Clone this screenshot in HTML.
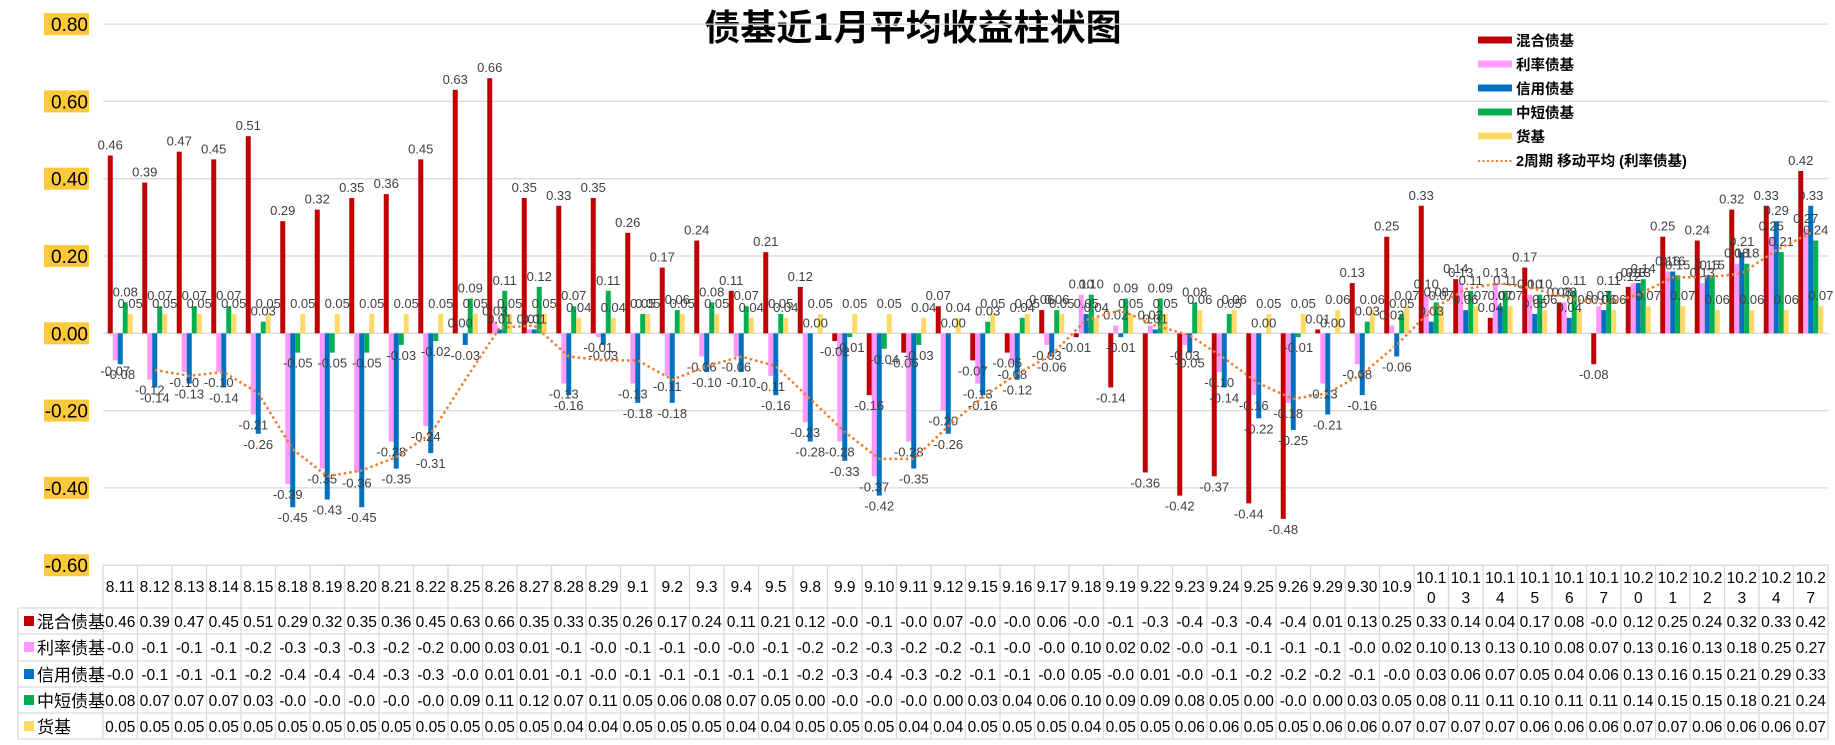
<!DOCTYPE html>
<html><head><meta charset="utf-8"><style>
html,body{margin:0;padding:0;background:#fff;}
svg{display:block;font-family:"Liberation Sans","Noto Sans CJK SC",sans-serif;}
</style></head><body>
<svg id="chart" width="1835" height="745" viewBox="0 0 1835 745" xmlns="http://www.w3.org/2000/svg">
<text x="913" y="40" text-anchor="middle" font-size="36" font-weight="bold" fill="#000" font-family="'Noto Sans CJK SC',sans-serif">债基近1月平均收益柱状图</text>
<g id="grid"></g><g id="bars"></g><g id="labels"></g><g id="ma"></g><g id="table"></g>
<g id="legend"></g>
</svg>
<script>
const categories=["8.11","8.12","8.13","8.14","8.15","8.18","8.19","8.20","8.21","8.22","8.25","8.26","8.27","8.28","8.29","9.1","9.2","9.3","9.4","9.5","9.8","9.9","9.10","9.11","9.12","9.15","9.16","9.17","9.18","9.19","9.22","9.23","9.24","9.25","9.26","9.29","9.30","10.9","10.10","10.13","10.14","10.15","10.16","10.17","10.20","10.21","10.22","10.23","10.24","10.27"];
const mixed=[0.46,0.39,0.47,0.45,0.51,0.29,0.32,0.35,0.36,0.45,0.63,0.66,0.35,0.33,0.35,0.26,0.17,0.24,0.11,0.21,0.12,-0.02,-0.16,-0.05,0.07,-0.07,-0.05,0.06,-0.01,-0.14,-0.36,-0.42,-0.37,-0.44,-0.48,0.01,0.13,0.25,0.33,0.14,0.04,0.17,0.08,-0.08,0.12,0.25,0.24,0.32,0.33,0.42];
const rate=[-0.07,-0.12,-0.10,-0.10,-0.21,-0.39,-0.35,-0.36,-0.28,-0.24,0.00,0.03,0.01,-0.13,-0.01,-0.13,-0.11,-0.06,-0.06,-0.11,-0.23,-0.28,-0.37,-0.28,-0.20,-0.13,-0.08,-0.03,0.10,0.02,0.02,-0.03,-0.10,-0.16,-0.18,-0.13,-0.08,0.02,0.10,0.13,0.13,0.10,0.08,0.07,0.13,0.16,0.13,0.18,0.25,0.27];
const credit=[-0.08,-0.14,-0.13,-0.14,-0.26,-0.45,-0.43,-0.45,-0.35,-0.31,-0.03,0.01,0.01,-0.16,-0.03,-0.18,-0.18,-0.10,-0.10,-0.16,-0.28,-0.33,-0.42,-0.35,-0.26,-0.16,-0.12,-0.06,0.05,-0.01,0.01,-0.05,-0.14,-0.22,-0.25,-0.21,-0.16,-0.06,0.03,0.06,0.07,0.05,0.04,0.06,0.13,0.16,0.15,0.21,0.29,0.33];
const shortBond=[0.08,0.07,0.07,0.07,0.03,-0.05,-0.05,-0.05,-0.03,-0.02,0.09,0.11,0.12,0.07,0.11,0.05,0.06,0.08,0.07,0.05,0.00,-0.01,-0.04,-0.03,0.00,0.03,0.04,0.06,0.10,0.09,0.09,0.08,0.05,0.00,-0.01,0.00,0.03,0.05,0.08,0.11,0.11,0.10,0.11,0.11,0.14,0.15,0.15,0.18,0.21,0.24];
const money=[0.05,0.05,0.05,0.05,0.05,0.05,0.05,0.05,0.05,0.05,0.05,0.05,0.05,0.04,0.04,0.05,0.05,0.05,0.04,0.04,0.05,0.05,0.05,0.04,0.04,0.05,0.05,0.05,0.04,0.05,0.05,0.06,0.06,0.05,0.05,0.06,0.06,0.07,0.07,0.07,0.07,0.06,0.06,0.06,0.07,0.07,0.06,0.06,0.06,0.07];
const yTicks=[0.8,0.6,0.4,0.2,0,-0.2,-0.4,-0.6];
const seriesNames=["混合债基","利率债基","信用债基","中短债基","货基"];

const NS="http://www.w3.org/2000/svg";
const series=[mixed,rate,credit,shortBond,money];
const colors=["#C00000","#FF99FF","#0070C0","#00B050","#FFD966"];
const keys=["mixed","rate","credit","short","money"];
const x0=103,catW=34.5,y0=333.3,pxPer=386.5;
const Y=v=>y0-v*pxPer;
const X=i=>x0+i*catW;
const bw=5;
function el(tag,attrs,parent,text){const e=document.createElementNS(NS,tag);for(const k in attrs)e.setAttribute(k,attrs[k]);if(text!==undefined)e.textContent=text;parent.appendChild(e);return e;}
const grid=document.getElementById('grid');
yTicks.forEach(t=>{
  const y=Y(t);
  if(t!==0){const l=el('line',{x1:x0,x2:1828,y1:y,y2:y,stroke:'#D9D9D9','stroke-width':1.3},grid);
  
  }
  const r=el('rect',{x:44,y:y-11,width:45,height:22,fill:'#FFC93C'},grid);
  
  
  const tx=el('text',{x:88,y:y+7,'text-anchor':'end','font-size':19,fill:'#000'},grid,t.toFixed(2));
  
  
});
const zl=el('line',{x1:x0,x2:1828,y1:y0,y2:y0,stroke:'#D9D9D9','stroke-width':1.3},grid);


const bars=document.getElementById('bars'),labels=document.getElementById('labels');
categories.forEach((c,i)=>{
  const gx=X(i)+(catW-5*bw)/2;
  series.forEach((s,k)=>{
    const v=s[i];const x=gx+k*bw;const y=Math.min(Y(v),y0);const h=Math.abs(Y(v)-y0);
    const r=el('rect',{x:x,y:y,width:bw,height:Math.max(h,0),fill:colors[k]},bars);
    
    
    const ly=v>=0?Y(v)-6:Y(v)+15;
    const t=el('text',{x:x+bw/2,y:ly,'text-anchor':'middle','font-size':13,fill:'#404040'},labels,v.toFixed(2));
    
    
  });
});
// moving average
const ma=document.getElementById('ma');let pts=[];
for(let i=1;i<rate.length;i++){pts.push((X(i)+catW/2).toFixed(1)+','+Y((rate[i]+rate[i-1])/2).toFixed(1));}
const pl=el('polyline',{points:pts.join(' '),fill:'none',stroke:'#ED7D31','stroke-width':2.5,'stroke-dasharray':'2.5,3'},ma);


// table
const tb=document.getElementById('table');
const rowsY=[565,608,634,661,687,713,739];
const ln=(a)=>{const l=el('line',Object.assign({stroke:'#D9D9D9','stroke-width':1.3},a),tb);};
ln({x1:x0,x2:1828,y1:565,y2:565});
for(let r=1;r<rowsY.length;r++)ln({x1:18,x2:1828,y1:rowsY[r],y2:rowsY[r]});
ln({x1:18,x2:18,y1:608,y2:739});
for(let i=0;i<=categories.length;i++)ln({x1:X(i),x2:X(i),y1:565,y2:739});
function fmt(v){if(v<0){return '-'+(Math.floor(Math.abs(v)*10+1e-9)/10).toFixed(1);}return v.toFixed(2);}
categories.forEach((c,i)=>{
  const cx=X(i)+catW/2;
  if(c.length>4){
    const t=el('text',{x:cx,y:592,'text-anchor':'middle','font-size':15.5,fill:'#000'},tb);
    
    
    el('tspan',{x:cx,y:583},t,c.slice(0,4));el('tspan',{x:cx,y:603},t,c.slice(4));
  }else{
    const t=el('text',{x:cx,y:592,'text-anchor':'middle','font-size':15.5,fill:'#000'},tb,c);
    
    
  }
  series.forEach((s,k)=>{
    const t=el('text',{x:cx,y:rowsY[k+1]+19,'text-anchor':'middle','font-size':15.5,fill:'#000'},tb,fmt(s[i]));
    
    
  });
});
seriesNames.forEach((n,k)=>{
  const y=rowsY[k+1];
  const r=el('rect',{x:24,y:y+8,width:10,height:10,fill:colors[k]},tb);
  
  
  const t=el('text',{x:37,y:y+20,'font-size':17,fill:'#000'},tb,n);
  
  
});
// legend
const lg=document.getElementById('legend');
const legNames=seriesNames.concat(["2周期 移动平均 (利率债基)"]);
legNames.forEach((n,k)=>{
  const y=40+k*24;
  if(k<5){const r=el('rect',{x:1478,y:y-3.5,width:34,height:7,fill:colors[k]},lg);
    
    }
  else{const l=el('line',{x1:1478,x2:1512,y1:y+1,y2:y+1,stroke:'#ED7D31','stroke-width':2,'stroke-dasharray':'2,2.5'},lg);
    
    }
  const t=el('text',{x:1516,y:y+6,'font-size':14.5,'font-weight':'bold',fill:'#000'},lg,n);
  
  
});
</script>
</body></html>
